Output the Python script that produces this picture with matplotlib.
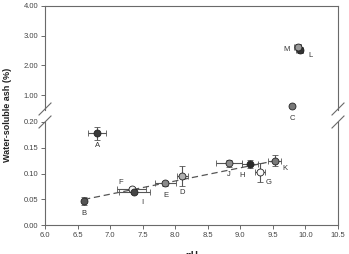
import numpy as np
import matplotlib
matplotlib.use("Agg")
import matplotlib.pyplot as plt

plt.rcParams['font.family'] = ['Liberation Sans', 'DejaVu Sans']

# ---- data ----
labels = ["A", "B", "C", "D", "E", "F", "G", "H", "I", "J", "K", "L", "M"]
ph = [6.80, 6.60, 9.80, 8.11, 7.85, 7.33, 9.30, 9.15, 7.37, 8.83, 9.53, 9.91, 9.88]
ash = [0.178, 0.047, 0.64, 0.095, 0.081, 0.069, 0.102, 0.118, 0.065, 0.120, 0.125, 2.52, 2.62]
ph_err = [0.14, 0.02, 0.00, 0.09, 0.16, 0.22, 0.08, 0.12, 0.24, 0.20, 0.10, 0.05, 0.05]
ash_err = [0.012, 0.008, 0.00, 0.020, 0.005, 0.004, 0.018, 0.008, 0.004, 0.007, 0.011, 0.10, 0.10]
face = ["#3a3a3a", "#555555", "#777777", "#b0b0b0", "#8a8a8a", "#f4f4f4", "#f8f8f8",
        "#2a2a2a", "#454545", "#8c8c8c", "#7a7a7a", "#333333", "#9a9a9a"]
# label offsets (points)
lab_dx = [0, 0, 0, 0, 0, -8, 6, -6, 6, 0, 7, 8, -8]
lab_dy = [-9, -9, -9, -12, -9, 5, -7, -8, -8, -8, -6, -4, -2]
fit_members = ["B", "D", "E", "F", "G", "H", "I", "J", "K"]
xticks = [6.0, 6.5, 7.0, 7.5, 8.0, 8.5, 9.0, 9.5, 10.0, 10.5]
yticks_low = [0.00, 0.05, 0.10, 0.15, 0.20]
yticks_high = [1.00, 2.00, 3.00, 4.00]

W, H = 349, 254
fig = plt.figure(figsize=(W / 100, H / 100), dpi=100)
L, R = 45 / W, 338 / W
ax_hi = fig.add_axes([L, 1 - 110 / H, R - L, (110 - 6) / H])
ax_lo = fig.add_axes([L, 1 - 225 / H, R - L, (225 - 122) / H])

spc = "#6a6a6a"
tc = "#444444"
for ax in (ax_hi, ax_lo):
    ax.set_xlim(6.0, 10.5)
    for s in ax.spines.values():
        s.set_color(spc)
        s.set_linewidth(0.8)
    ax.tick_params(direction='out', length=3, width=0.7, color=spc,
                   labelsize=5.5, labelcolor=tc, pad=2)

ax_hi.set_ylim(0.5, 4.0)
ax_lo.set_ylim(0.0, 0.2)
ax_hi.spines['bottom'].set_visible(False)
ax_lo.spines['top'].set_visible(False)
ax_hi.set_xticks([])
ax_hi.set_yticks(yticks_high)
ax_hi.set_yticklabels([f"{v:.2f}" for v in yticks_high])
ax_lo.set_yticks(yticks_low)
ax_lo.set_yticklabels([f"{v:.2f}" for v in yticks_low])
ax_lo.set_xticks(xticks)
ax_lo.set_xticklabels([f"{v:.1f}" for v in xticks])

# regression line over the low-group samples
idx = [labels.index(k) for k in fit_members]
fx = np.array([ph[i] for i in idx])
fy = np.array([ash[i] for i in idx])
slope, icpt = np.polyfit(fx, fy, 1)
xs = np.array([fx.min(), fx.max()])
ax_lo.plot(xs, slope * xs + icpt, ls=(0, (5, 3)), color="#555555", lw=0.9, zorder=1)

for i, lab in enumerate(labels):
    ax = ax_hi if ash[i] > 0.3 else ax_lo
    ax.errorbar(ph[i], ash[i], xerr=ph_err[i] if ph_err[i] > 0 else None,
                yerr=ash_err[i] if ash_err[i] > 0 else None,
                fmt='o', ms=5, mfc=face[i], mec="#222222", mew=0.6,
                ecolor="#555555", elinewidth=0.8, capsize=2.2, capthick=0.8, zorder=3)
    ax.annotate(lab, (ph[i], ash[i]), xytext=(lab_dx[i], lab_dy[i]),
                textcoords='offset points', ha='center', va='center',
                fontsize=5.5, color="#333333", annotation_clip=False)

# break marks on both spines
for xf in (L, R):
    for yc in (109, 122):
        yf = 1 - yc / H
        fig.add_artist(plt.Line2D([xf - 6 / W, xf + 6 / W], [yf - 6 / H, yf + 6 / H],
                                  color=spc, lw=0.8, transform=fig.transFigure))

fig.text(8 / W, 1 - 115 / H, "Water-soluble ash (%)", rotation=90, ha='center',
         va='center', fontsize=6.5, fontweight='bold', color="#222222")
fig.text(192 / W, 1 - 251 / H, "pH", ha='center', va='top', fontsize=7,
         fontweight='bold', color="#222222")

fig.savefig("out.png", dpi=100)
